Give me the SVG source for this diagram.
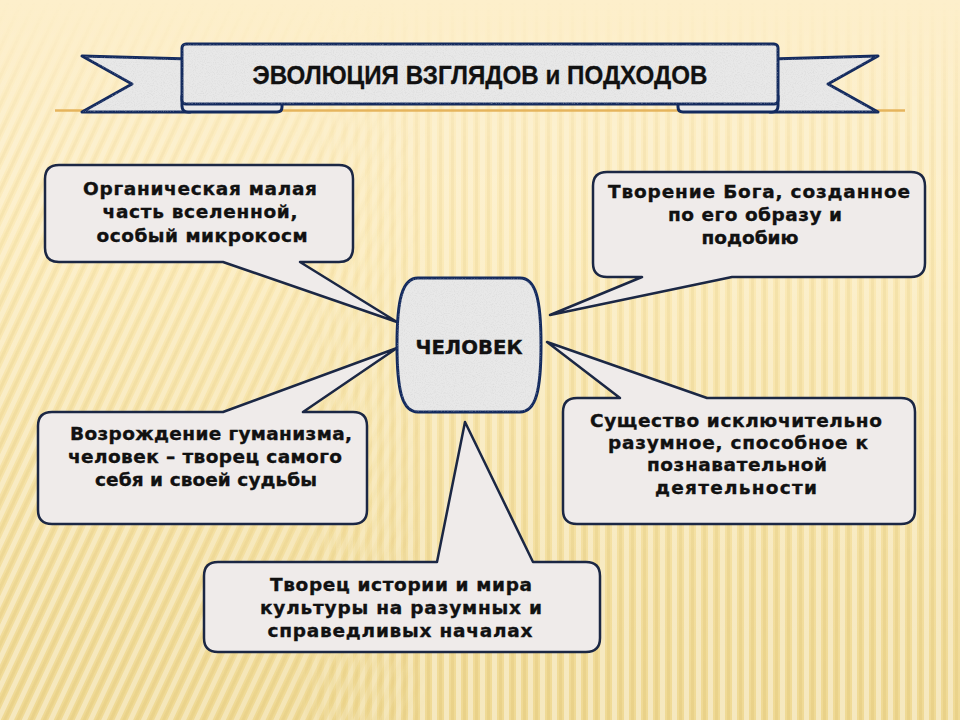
<svg xmlns="http://www.w3.org/2000/svg" width="960" height="720" viewBox="0 0 960 720">
  <style>
    .callout { fill: #EFEBEA; stroke: #1B2744; stroke-width: 2.5; stroke-linejoin: round; }
    .ct { font-family: "DejaVu Sans", "Liberation Sans", sans-serif; font-weight: bold; font-size: 18.5px; fill: #111; stroke: #111; stroke-width: 0.35; text-anchor: middle; }
    .bt { font-family: "Liberation Sans Narrow", "Liberation Sans", Arial, sans-serif; font-weight: bold; font-size: 26px; fill: #111; stroke: #111; stroke-width: 0.3; }
    .ban { fill: #E8E8E8; stroke: #132A5E; stroke-width: 3; stroke-linejoin: round; }
    .noise { fill: #000; filter: url(#speckle); }
  </style>
  <defs>
    <linearGradient id="bg" x1="0" y1="0" x2="0" y2="1">
      <stop offset="0" stop-color="#FDEFCB"/>
      <stop offset="0.35" stop-color="#FBEAB8"/>
      <stop offset="1" stop-color="#EFD994"/>
    </linearGradient>
    <pattern id="vstripe" width="12" height="12" patternUnits="userSpaceOnUse">
      <rect x="0" y="0" width="5" height="12" fill="#FFFFFF" opacity="0.4"/>
      <rect x="7" y="0" width="3" height="12" fill="#C9A94A" opacity="0.15"/>
    </pattern>
    <pattern id="dstripe" width="12" height="12" patternUnits="userSpaceOnUse" patternTransform="rotate(25)">
      <rect x="0" y="0" width="5" height="12" fill="#FFFFFF" opacity="0.4"/>
      <rect x="7" y="0" width="3" height="12" fill="#C9A94A" opacity="0.15"/>
    </pattern>
    <linearGradient id="fadeV" x1="0" y1="0" x2="0" y2="1">
      <stop offset="0" stop-color="#fff" stop-opacity="0"/>
      <stop offset="0.2" stop-color="#fff" stop-opacity="0.6"/>
      <stop offset="1" stop-color="#fff" stop-opacity="1"/>
    </linearGradient>
    <linearGradient id="fadeL" x1="0" y1="0" x2="1" y2="0">
      <stop offset="0" stop-color="#fff" stop-opacity="1"/>
      <stop offset="0.3" stop-color="#fff" stop-opacity="0.8"/>
      <stop offset="0.45" stop-color="#fff" stop-opacity="0"/>
    </linearGradient>
    <linearGradient id="fadeR" x1="0" y1="0" x2="1" y2="0">
      <stop offset="0.3" stop-color="#fff" stop-opacity="0"/>
      <stop offset="0.45" stop-color="#fff" stop-opacity="1"/>
    </linearGradient>
    <mask id="maskV">
      <rect width="960" height="720" fill="url(#fadeV)"/>
    </mask>
    <mask id="maskL">
      <rect width="960" height="720" fill="url(#fadeL)"/>
    </mask>
    <mask id="maskR">
      <rect width="960" height="720" fill="url(#fadeR)"/>
    </mask>
    <filter id="speckle" x="0" y="0" width="100%" height="100%">
      <feTurbulence type="fractalNoise" baseFrequency="0.9" numOctaves="2" seed="3" result="n"/>
      <feColorMatrix in="n" type="matrix" values="0 0 0 0 0.6  0 0 0 0 0.6  0 0 0 0 0.6  0 0 0 -0.9 0.5" result="g"/>
      <feComposite in="g" in2="SourceGraphic" operator="in"/>
    </filter>
  </defs>

  <!-- background -->
  <rect width="960" height="720" fill="url(#bg)"/>
  <g mask="url(#maskV)">
    <rect width="960" height="720" fill="url(#dstripe)" mask="url(#maskL)"/>
    <rect width="960" height="720" fill="url(#vstripe)" mask="url(#maskR)"/>
  </g>
  <line x1="55" y1="110.5" x2="905" y2="110.5" stroke="#E6B45C" stroke-width="2.5"/>

  <!-- title banner -->
  <g id="banner">
    <path class="ban" d="M82,56 L190,59 L190,112 L82,112 L132,84 Z"/>
    <path class="noise" d="M82,56 L190,59 L190,112 L82,112 L132,84 Z"/>
    <path class="ban" d="M878,56 L770,59 L770,112 L878,112 L828,84 Z"/>
    <path class="noise" d="M878,56 L770,59 L770,112 L878,112 L828,84 Z"/>
    <path class="ban" d="M182,96 H277 Q282,96 282,101 V107 Q282,112 277,112 H188 Q182,112 182,106 Z"/>
    <path class="ban" d="M778,96 H683 Q678,96 678,101 V107 Q678,112 683,112 H772 Q778,112 778,106 Z"/>
    <rect class="ban" x="182" y="44" width="596" height="60" rx="4"/>
    <rect class="noise" x="182" y="44" width="596" height="60" rx="4"/>
    <text class="bt" x="480" y="84" text-anchor="middle" textLength="455" lengthAdjust="spacingAndGlyphs">ЭВОЛЮЦИЯ  ВЗГЛЯДОВ и ПОДХОДОВ</text>
  </g>

  <!-- callouts (pointers act as connectors to the centre node) -->
  <g id="connectors">
    <g id="c1">
      <path class="callout" d="M59,165 H339 Q353,165 353,179 V248 Q353,262 339,262 H300 L397,322 L223,262 H59 Q45,262 45,248 V179 Q45,165 59,165 Z"/>
      <text class="ct" x="200" y="195" textLength="234">Органическая малая</text>
      <text class="ct" x="200" y="218" textLength="195">часть вселенной,</text>
      <text class="ct" x="202" y="242" textLength="211">особый микрокосм</text>
    </g>
    <g id="c2">
      <path class="callout" d="M607,172 H911 Q925,172 925,186 V263 Q925,277 911,277 H732 L550,315 L642,277 H607 Q593,277 593,263 V186 Q593,172 607,172 Z"/>
      <text class="ct" x="759" y="198" textLength="302">Творение Бога, созданное</text>
      <text class="ct" x="755" y="221" textLength="174">по его образу и</text>
      <text class="ct" x="750" y="244">подобию</text>
    </g>
    <g id="c3">
      <path class="callout" d="M52,412 H223 L397,348 L303,412 H353 Q367,412 367,426 V510 Q367,524 353,524 H52 Q38,524 38,510 V426 Q38,412 52,412 Z"/>
      <text class="ct" x="211" y="440" textLength="282">Возрождение гуманизма,</text>
      <text class="ct" x="205" y="463" textLength="274">человек – творец самого</text>
      <text class="ct" x="206" y="486" textLength="222">себя и своей судьбы</text>
    </g>
    <g id="c4">
      <path class="callout" d="M577,398 H620 L547,342 L707,398 H901 Q915,398 915,412 V510 Q915,524 901,524 H577 Q563,524 563,510 V412 Q563,398 577,398 Z"/>
      <text class="ct" x="736" y="427" textLength="292">Существо исключительно</text>
      <text class="ct" x="738" y="449" textLength="260">разумное, способное к</text>
      <text class="ct" x="737" y="471" textLength="180">познавательной</text>
      <text class="ct" x="736" y="494" textLength="162">деятельности</text>
    </g>
    <g id="c5">
      <path class="callout" d="M218,562 H437 L465,422 L533,562 H586 Q600,562 600,576 V638 Q600,652 586,652 H218 Q204,652 204,638 V576 Q204,562 218,562 Z"/>
      <text class="ct" x="401" y="591" textLength="262">Творец истории и мира</text>
      <text class="ct" x="401" y="614" textLength="282">культуры на разумных и</text>
      <text class="ct" x="400" y="637" textLength="265">справедливых началах</text>
    </g>
  </g>

  <!-- centre node -->
  <g id="chelovek">
    <path class="ban" d="M418,278 H520 C536,278 541,300 541,345 C541,390 536,412 520,412 H418 C402,412 397,390 397,345 C397,300 402,278 418,278 Z"/>
    <path class="noise" d="M418,278 H520 C536,278 541,300 541,345 C541,390 536,412 520,412 H418 C402,412 397,390 397,345 C397,300 402,278 418,278 Z"/>
    <text x="469" y="354" font-family="DejaVu Sans, Liberation Sans, sans-serif" font-weight="bold" font-size="20" fill="#111" stroke="#111" stroke-width="0.35" text-anchor="middle" textLength="107" lengthAdjust="spacingAndGlyphs">ЧЕЛОВЕК</text>
  </g>
</svg>
